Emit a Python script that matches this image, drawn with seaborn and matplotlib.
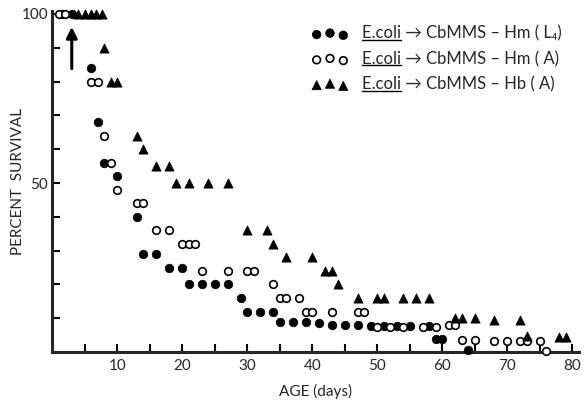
import matplotlib
matplotlib.use("Agg")
import matplotlib.pyplot as plt
import seaborn as sns
import pandas as pd
from matplotlib.lines import Line2D

# ====================== data ======================

# E.coli -> CbMMS - Hm (L4), filled circles
hm_l4_age = [1.5, 3, 6, 7, 8, 10, 13, 14, 16, 18, 20, 21, 23, 25, 27, 29, 30, 32, 34,
             35, 37, 39, 41, 43, 45, 47, 49, 51, 53, 55, 58, 59, 60, 64]
hm_l4_surv = [100, 100, 84, 68, 56, 52, 40, 29, 29, 25, 25, 20, 20, 20, 20, 16, 12, 12, 12,
              9, 9, 9, 8.5, 8, 8, 8, 7.8, 7.8, 7.8, 7.8, 7.8, 4, 4, 0.6]

# E.coli -> CbMMS - Hm (A), open circles
hm_a_age = [1, 2, 6, 7, 8, 9, 10, 13, 14, 16, 18, 20, 21, 22, 23, 27, 30, 31, 34, 35, 36,
            38, 39, 40, 43, 47, 48, 50, 52, 54, 57, 59, 61, 62, 63, 65, 68, 70, 72, 73, 75, 76]
hm_a_surv = [100, 100, 80, 80, 64, 56, 48, 44, 44, 36, 36, 32, 32, 32, 24, 24, 24, 24, 20, 16, 16,
             16, 12, 12, 12, 12, 12, 7.5, 7.5, 7.5, 7.5, 7.5, 8, 8, 3.5, 3.5, 3.2, 3.2, 3.2, 3.2, 3.2, 0.4]

# E.coli -> CbMMS - Hb (A), filled triangles
hb_a_age = [4, 5, 6, 6.8, 7.6, 8, 9, 10, 13, 14, 16, 18, 19, 21, 24, 27, 30, 33, 34, 36, 40,
            42, 43, 44, 47, 50, 51, 54, 56, 58, 62, 63, 65, 68, 72, 73, 78, 79]
hb_a_surv = [100, 100, 100, 100, 100, 90, 80, 80, 64, 60, 55, 55, 50, 50, 50, 50, 36, 36, 32, 28, 28,
             24, 24, 20, 16, 16, 16, 16, 16, 16, 10, 10, 10, 9.5, 9.5, 4.8, 4.5, 4.5]

labels = ["E.coli \u2192 CbMMS \u2013 Hm ( L\u2084)",
          "E.coli \u2192 CbMMS \u2013 Hm ( A)",
          "E.coli \u2192 CbMMS \u2013 Hb ( A)"]

x_ticks = list(range(5, 81, 5))
x_tick_labels = [str(t) if t % 10 == 0 else "" for t in x_ticks]
y_ticks = list(range(10, 101, 10))
y_tick_labels = [str(t) if t in (50, 100) else "" for t in y_ticks]

# ====================== plot ======================

sns.set_style("ticks")
plt.rcParams['font.family'] = ['Lato', 'DejaVu Sans']

fig = plt.figure(figsize=(5.87, 4.08), dpi=100)
ax = fig.add_axes([0.089, 0.137, 0.897, 0.837])

df1 = pd.DataFrame({'age': hm_l4_age, 'surv': hm_l4_surv})
df2 = pd.DataFrame({'age': hm_a_age, 'surv': hm_a_surv})
df3 = pd.DataFrame({'age': hb_a_age, 'surv': hb_a_surv})

sns.scatterplot(data=df1, x='age', y='surv', marker='o', s=38, color='black',
                edgecolor='black', linewidth=0.5, label=labels[0], ax=ax, clip_on=False, zorder=3)
sns.scatterplot(data=df2, x='age', y='surv', marker='o', s=30, facecolor='white',
                edgecolor='black', linewidth=1.2, label=labels[1], ax=ax, clip_on=False, zorder=3)
sns.scatterplot(data=df3, x='age', y='surv', marker='^', s=44, color='black',
                edgecolor='black', linewidth=0.5, label=labels[2], ax=ax, clip_on=False, zorder=3)

ax.set_xlim(0, 81)
ax.set_ylim(0, 101)
ax.set_xticks(x_ticks)
ax.set_xticklabels(x_tick_labels, fontsize=11)
ax.set_yticks(y_ticks)
ax.set_yticklabels(y_tick_labels, fontsize=11)
ax.tick_params(direction='in', length=6, width=1.5, color='black', pad=5)
ax.tick_params(axis='y', pad=3)
for side in ['left', 'bottom']:
    ax.spines[side].set_linewidth(2.2)
for side in ['top', 'right']:
    ax.spines[side].set_visible(False)

ax.set_xlabel('AGE (days)', fontsize=11, labelpad=8)
ax.set_ylabel('PERCENT  SURVIVAL', fontsize=11)
ax.yaxis.set_label_coords(-0.052, 0.5)

# inoculation arrow
ax.annotate('', xy=(3, 97), xytext=(3, 83),
            arrowprops=dict(arrowstyle='-|>', color='black', lw=2.2, mutation_scale=16))

leg = ax.legend(loc='upper left', bbox_to_anchor=(0.48, 0.975), frameon=False,
                scatterpoints=3, fontsize=12, handletextpad=0.8, labelspacing=0.55,
                borderaxespad=0, handlelength=2.2)

# underline "E.coli" in each legend entry
fig.canvas.draw()
renderer = fig.canvas.get_renderer()
for t in leg.get_texts():
    bb = t.get_window_extent(renderer)
    tmp = fig.text(0, 0, "E.coli", fontproperties=t.get_fontproperties())
    w = tmp.get_window_extent(renderer).width
    tmp.remove()
    y = bb.y0 + 2
    fig.add_artist(Line2D([bb.x0 / fig.bbox.width, (bb.x0 + w) / fig.bbox.width],
                          [y / fig.bbox.height, y / fig.bbox.height],
                          transform=fig.transFigure, color='black', lw=1))

plt.savefig('out.png', dpi=100)
